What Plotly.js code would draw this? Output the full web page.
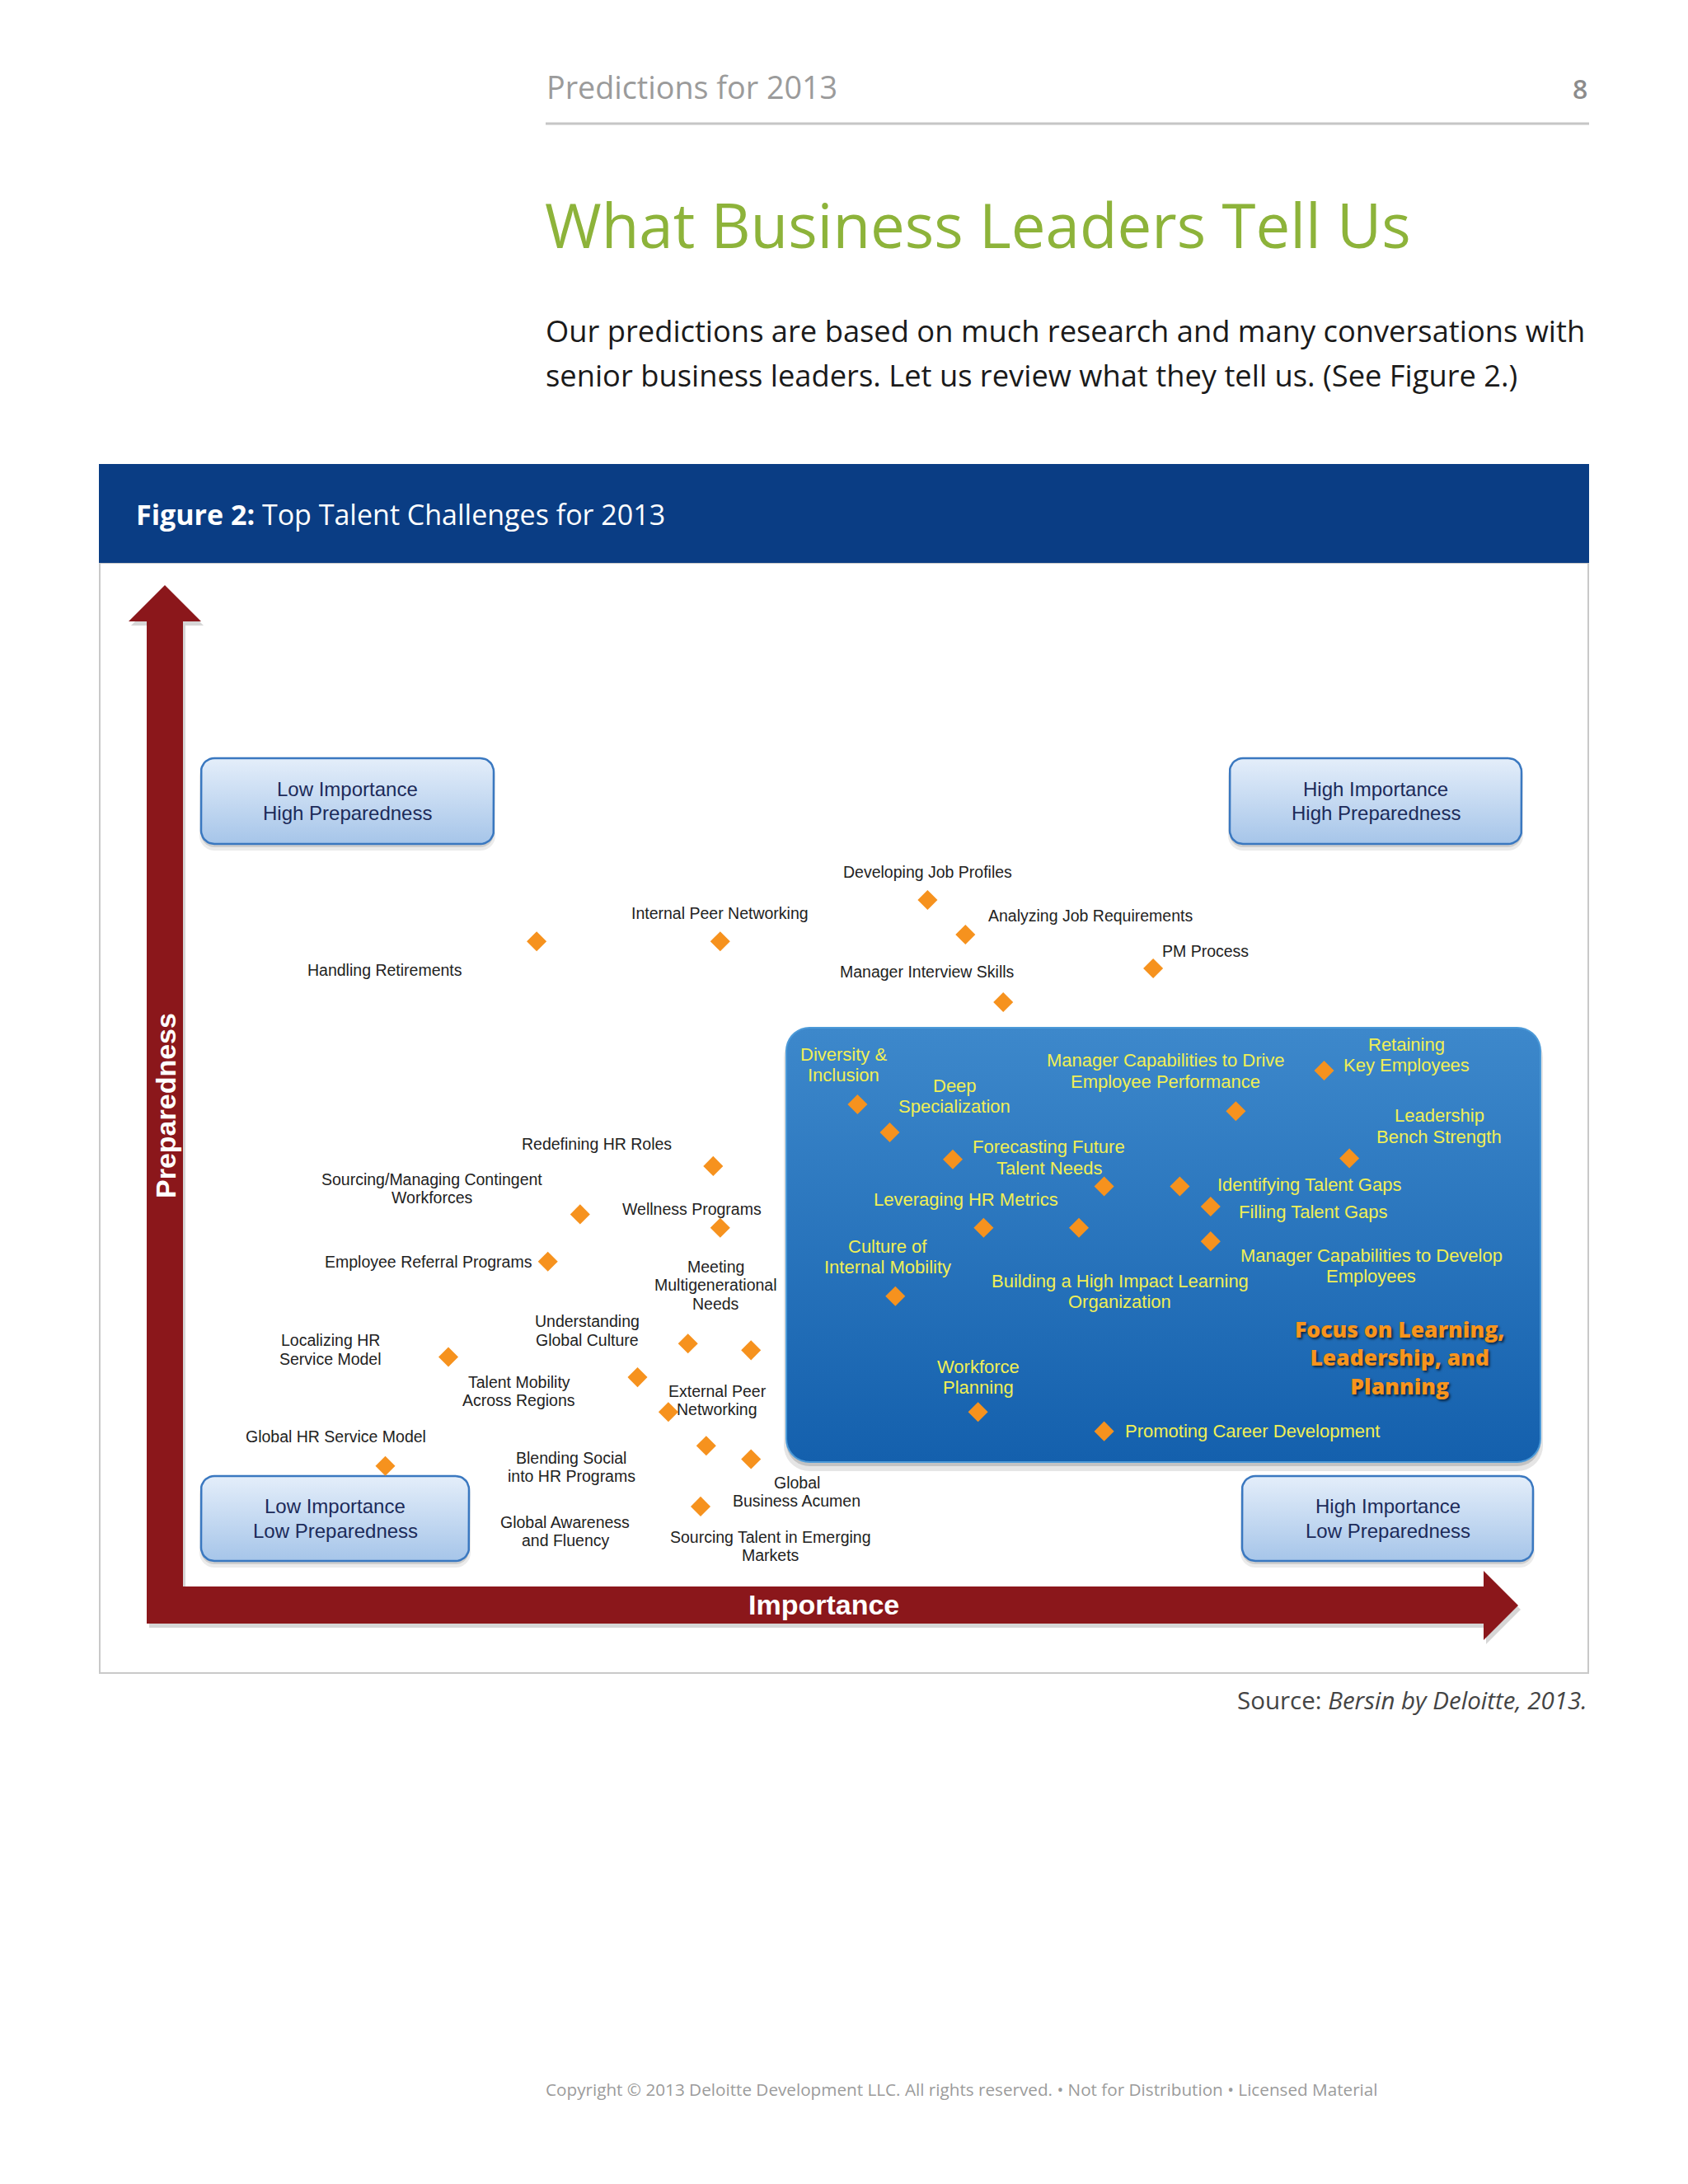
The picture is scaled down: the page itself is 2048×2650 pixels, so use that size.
<!DOCTYPE html>
<html><head><meta charset="utf-8">
<script src="https://cdn.plot.ly/plotly-3.0.1.min.js"></script>
<style>html,body{margin:0;padding:0;background:#fff}#chart{width:2048px;height:2650px}</style>
</head><body><div id="chart"></div>
<script>
// ---------------- DATA ----------------
const challenges = [
 "Handling Retirements","Internal Peer Networking","Developing Job Profiles","Analyzing Job Requirements","PM Process","Manager Interview Skills",
 "Redefining HR Roles","Sourcing/Managing Contingent Workforces","Wellness Programs","Employee Referral Programs","Localizing HR Service Model",
 "Understanding Global Culture","Meeting Multigenerational Needs","Talent Mobility Across Regions","External Peer Networking","Global HR Service Model",
 "Blending Social into HR Programs","Global Business Acumen","Global Awareness and Fluency",
 "Diversity & Inclusion","Deep Specialization","Forecasting Future Talent Needs","Manager Capabilities to Drive Employee Performance",
 "Retaining Key Employees","Leadership Bench Strength","Sourcing Talent in Emerging Markets","Identifying Talent Gaps","Filling Talent Gaps",
 "Leveraging HR Metrics","Building a High Impact Learning Organization","Manager Capabilities to Develop Employees","Culture of Internal Mobility",
 "Workforce Planning","Promoting Career Development"];
const importance = [2.53,3.84,5.32,5.59,6.93,5.86,3.79,2.84,3.84,2.61,1.90,3.61,4.06,3.25,3.47,1.45,3.74,4.06,3.70,
 4.82,5.05,5.50,7.52,8.15,8.33,6.58,7.12,7.34,5.72,6.40,7.34,5.09,5.68,6.58];
const preparedness = [6.69,6.69,7.12,6.76,6.41,6.06,4.36,3.86,3.72,3.37,2.38,2.52,2.45,2.17,1.81,1.25,1.46,1.32,0.83,
 5.00,4.71,4.43,4.93,5.35,4.44,4.15,4.15,3.94,3.72,3.72,3.58,3.01,1.81,1.61];
const quadrantLabels = [["Low Importance","High Preparedness"],["High Importance","High Preparedness"],
 ["Low Importance","Low Preparedness"],["High Importance","Low Preparedness"]];
const focusLines = ["Focus on Learning,","Leadership, and","Planning"];
const axisNames = ["Importance","Preparedness"];
const headerText = "Predictions for 2013";
const pageNumber = "8";
const titleText = "What Business Leaders Tell Us";
const introLines = ["Our predictions are based on much research and many conversations with",
 "senior business leaders. Let us review what they tell us. (See Figure 2.)"];
const figureCaption = ["Figure 2:","Top Talent Challenges for 2013"];
const sourceText = ["Source:","Bersin by Deloitte, 2013."];
const copyrightText = "Copyright © 2013 Deloitte Development LLC. All rights reserved. • Not for Distribution • Licensed Material";

// ---------------- LAYOUT / STYLE ----------------
// label placement: pixel offsets from the point, anchor, word-break positions, style
const labelLayout = [
 {dx:-184,dy:35,a:'center',b:[],s:'out'},
 {dx:0,dy:-34,a:'center',b:[],s:'out'},
 {dx:0,dy:-33.5,a:'center',b:[],s:'out'},
 {dx:25.5,dy:-23,a:'left',b:[],s:'out'},
 {dx:8.5,dy:-21.4,a:'left',b:[],s:'out'},
 {dx:-92.5,dy:-36.5,a:'center',b:[],s:'out'},
 {dx:-141.3,dy:-26.8,a:'center',b:[],s:'out'},
 {dx:-179.6,dy:-42.8,a:'center',b:[2],s:'out'},
 {dx:-34.2,dy:-22.3,a:'center',b:[],s:'out'},
 {dx:-17,dy:0,a:'right',b:[],s:'out'},
 {dx:-143.4,dy:-20.1,a:'center',b:[2],s:'out'},
 {dx:-122.3,dy:-26.8,a:'center',b:[1],s:'out'},
 {dx:-43,dy:-101.4,a:'center',b:[1,2],s:'out'},
 {dx:-143.9,dy:6,a:'center',b:[2],s:'out'},
 {dx:59.5,dy:-25.3,a:'center',b:[2],s:'out'},
 {dx:-60.2,dy:-35.7,a:'center',b:[],s:'out'},
 {dx:-163.6,dy:14.5,a:'center',b:[2],s:'out'},
 {dx:55.3,dy:28.5,a:'center',b:[1],s:'out'},
 {dx:-164.3,dy:18.7,a:'center',b:[2],s:'out'},
 {dx:-17.4,dy:-60.7,a:'center',b:[2],s:'in'},
 {dx:78.8,dy:-56.5,a:'center',b:[1],s:'in'},
 {dx:116.5,dy:-14.9,a:'center',b:[2],s:'in'},
 {dx:-85,dy:-61.2,a:'center',b:[4],s:'in'},
 {dx:100,dy:-31.9,a:'center',b:[1],s:'in'},
 {dx:109,dy:-51.6,a:'center',b:[1],s:'in'},
 {dx:-404.5,dy:425.5,a:'center',b:[4],s:'out'},
 {dx:44,dy:-1.8,a:'left',b:[],s:'in'},
 {dx:32.5,dy:6,a:'left',b:[],s:'in'},
 {dx:-21.7,dy:-33.9,a:'center',b:[],s:'in'},
 {dx:49.7,dy:64.6,a:'center',b:[5],s:'in'},
 {dx:194.7,dy:17.2,a:'center',b:[4],s:'in'},
 {dx:-9.1,dy:-60.4,a:'center',b:[2],s:'in'},
 {dx:0.3,dy:-54.9,a:'center',b:[1],s:'in'},
 {dx:23.6,dy:0,a:'left',b:[],s:'in'}
];
const labelStyles = {
 out:{font:{family:'Liberation Sans, Arial, sans-serif',size:19.5,color:'#222222'},gap:22.3},
 in:{font:{family:'Liberation Sans, Arial, sans-serif',size:22,color:'#f0ef55'},gap:25.5}
};
const quadBoxes = [
 {x0:244,y0:920,x1:599,y1:1024},{x0:1492,y0:920,x1:1846,y1:1024},
 {x0:244,y0:1791,x1:569,y1:1894},{x0:1507,y0:1791,x1:1860,y1:1894}];
const focusBox = {x0:954,y0:1247,x1:1869,y1:1774};

const W=2048,H=2650;
function rrect(x0,y0,x1,y1,r){
 const xs=[],ys=[];
 const cs=[[x1-r,y0+r,-90],[x1-r,y1-r,0],[x0+r,y1-r,90],[x0+r,y0+r,180]];
 cs.forEach(([cx,cy,a0])=>{for(let k=0;k<=9;k++){const a=(a0+k*10)*Math.PI/180;xs.push(cx+r*Math.cos(a));ys.push(cy+r*Math.sin(a));}});
 xs.push(xs[0]);ys.push(ys[0]);
 return {xs,ys};
}
const traces=[];
function shadow(b,r,ox,oy,alpha,grow){
 const p=rrect(b.x0+ox-grow,b.y0+oy-grow,b.x1+ox+grow,b.y1+oy+grow,r+grow);
 traces.push({type:'scatter',mode:'none',x:p.xs,y:p.ys,xaxis:'x',yaxis:'y',fill:'toself',
  fillcolor:'rgba(0,0,0,'+alpha+')',hoverinfo:'skip',showlegend:false});
}
function box(b,r,top,bottom,line,lw){
 const p=rrect(b.x0,b.y0,b.x1,b.y1,r);
 traces.push({type:'scatter',mode:'lines',x:p.xs,y:p.ys,xaxis:'x',yaxis:'y',fill:'toself',
  fillgradient:{type:'vertical',colorscale:[[0,top],[1,bottom]],start:b.y0,stop:b.y1},
  line:{color:line,width:lw},hoverinfo:'skip',showlegend:false});
}
// focus box
shadow(focusBox,28,0,8,0.10,3);
shadow(focusBox,28,0,5,0.15,0);
box(focusBox,28,'#3d88cb','#1460ad','#4c9ad8',2);
// quadrant boxes
quadBoxes.forEach(b=>{shadow(b,16,0,6,0.08,2);shadow(b,16,0,4,0.12,0);box(b,16,'#e4eefa','#a6c5e9','#3a78c0',2.5);});

// data trace
traces.push({type:'scatter',mode:'markers',x:importance,y:preparedness,text:challenges,xaxis:'x2',yaxis:'y2',
 marker:{symbol:'diamond',size:18.5,color:'#f6921e',line:{width:0}},hoverinfo:'text',showlegend:false});

// ---------------- annotations ----------------
const ann=[];
function pt(x,y,text,font,xa,extra){ann.push(Object.assign({xref:'x',yref:'y',x:x,y:y,text:text,showarrow:false,xanchor:xa||'center',yanchor:'middle',font:font},extra||{}));}
const OS='Open Sans, Noto Sans, sans-serif';
pt(661,105,headerText,{family:OS,size:37.7,color:'#9b9b9b'},'left');
pt(1928,107,pageNumber,{family:OS,size:32,color:'#8c8c8c',weight:600},'right');
pt(659,272,titleText,{family:OS,size:74.4,color:'#8db33a'},'left');
pt(660,401,introLines[0],{family:OS,size:36.3,color:'#1a1a1a'},'left');
pt(660,455,introLines[1],{family:OS,size:36.3,color:'#1a1a1a'},'left');
pt(163,624,'<b>'+figureCaption[0]+'</b> '+figureCaption[1],{family:OS,size:34,color:'#ffffff'},'left');
pt(1928,2062,sourceText[0]+' <i>'+sourceText[1]+'</i>',{family:OS,size:29.5,color:'#444444'},'right');
pt(660,2535,copyrightText,{family:OS,size:20.7,color:'#9b9b9b'},'left');
// axis names on arrows
pt(999,1947,axisNames[0],{family:'Liberation Sans, Arial, sans-serif',size:34,color:'#ffffff',weight:700});
pt(201,1342,axisNames[1],{family:'Liberation Sans, Arial, sans-serif',size:34,color:'#ffffff',weight:700},'center',{textangle:-90});
// quadrant labels
const qFont={family:'Liberation Sans, Arial, sans-serif',size:24,color:'#1c2b5a'};
quadBoxes.forEach((b,i)=>{const cx=(b.x0+b.x1)/2, cy=(b.y0+b.y1)/2;
 quadrantLabels[i].forEach((l,k)=>pt(cx,cy-14.7+k*29.4,l,qFont));});
// focus text
pt(1697.6,1647,focusLines.join('<br>'),{family:OS,size:26.5,color:'#f7941d',weight:800,shadow:'2px 2px 3px rgba(0,0,0,0.65)'});
// point labels
challenges.forEach((name,i)=>{
 const L=labelLayout[i], st=labelStyles[L.s];
 const words=name.split(' '); const cuts=[0].concat(L.b,[words.length]); const lines=[];
 for(let k=0;k<cuts.length-1;k++) lines.push(words.slice(cuts[k],cuts[k+1]).join(' '));
 lines.forEach((line,k)=>{
  ann.push({xref:'x2',yref:'y2',x:importance[i],y:preparedness[i],xshift:L.dx,yshift:-(L.dy+k*st.gap),
   text:line,showarrow:false,xanchor:L.a,yanchor:'middle',font:st.font});
 });
});

// ---------------- shapes ----------------
const arrowPath='M200,710 L244,754 L222,754 L222,1925 L1800,1925 L1800,1906 L1842,1948 L1800,1990 L1800,1970 L178,1970 L178,754 L156,754 Z';
const arrowShadow='M203,715 L247,759 L225,759 L225,1930 L1803,1930 L1803,1911 L1845,1953 L1803,1995 L1803,1975 L181,1975 L181,759 L159,759 Z';
const shapes=[
 {type:'line',xref:'x',yref:'y',x0:662,x1:1928,y0:150,y1:150,line:{color:'#c6c6c6',width:3},layer:'below'},
 {type:'rect',xref:'x',yref:'y',x0:121,x1:1927,y0:683,y1:2030,line:{color:'#c9c9c9',width:2},fillcolor:'rgba(0,0,0,0)',layer:'below'},
 {type:'rect',xref:'x',yref:'y',x0:120,x1:1928,y0:563,y1:683,line:{width:0},fillcolor:'#0a3d84',layer:'below'},
 {type:'path',xref:'x',yref:'y',path:arrowShadow,line:{width:0},fillcolor:'rgba(0,0,0,0.16)',layer:'below'},
 {type:'path',xref:'x',yref:'y',path:arrowPath,line:{width:0},fillcolor:'#8b171b',layer:'below'}
];

const layout={
 width:W,height:H,margin:{l:0,r:0,t:0,b:0},paper_bgcolor:'#ffffff',plot_bgcolor:'rgba(0,0,0,0)',
 showlegend:false,hovermode:'closest',
 xaxis:{domain:[0,1],range:[0,W],visible:false,fixedrange:true,anchor:'y'},
 yaxis:{domain:[0,1],range:[H,0],visible:false,fixedrange:true,anchor:'x'},
 xaxis2:{domain:[221/W,1921/W],range:[0,10],visible:false,fixedrange:true,anchor:'y2'},
 yaxis2:{domain:[1-1925/H,1-755/H],range:[0,10],visible:false,fixedrange:true,anchor:'x2'},
 shapes:shapes,annotations:ann
};
Plotly.newPlot('chart',traces,layout,{displayModeBar:false,staticPlot:true});
</script></body></html>
